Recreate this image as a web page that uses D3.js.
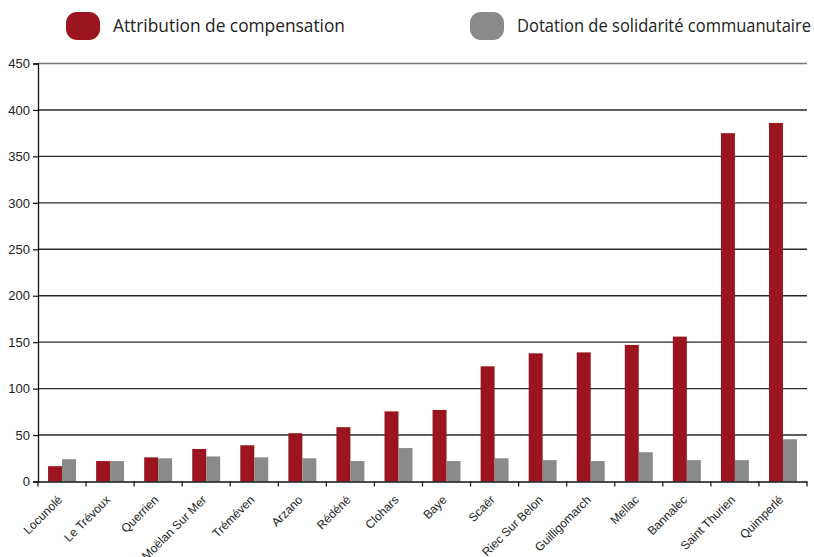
<!DOCTYPE html>
<html>
<head>
<meta charset="utf-8">
<script src="https://cdn.jsdelivr.net/npm/d3@7"></script>
<style>
  body { margin: 0; background: #fff; }
  svg { display: block; }
</style>
</head>
<body>
<div id="chart"></div>
<script>
// communes, dans l'ordre du graphique
var communes = ["Locunolé", "Le Trévoux", "Querrien", "Moëlan Sur Mer", "Tréméven", "Arzano",
  "Rédéné", "Clohars", "Baye", "Scaër", "Riec Sur Belon", "Guilligomarch", "Mellac",
  "Bannalec", "Saint Thurien", "Quimperlé"];
var attribution = [16.5, 22, 26, 35, 39, 52, 58.5, 75.5, 77, 124, 138, 139, 147, 156, 375, 386];
var dotation = [24, 22, 25, 27, 26, 25, 22, 36, 22, 25, 23, 22, 31.5, 23, 23, 45.5];
var yTicks = [0, 50, 100, 150, 200, 250, 300, 350, 400, 450];
var series = ["Attribution de compensation", "Dotation de solidarité commuanutaire"];
var couleurs = ["#9a151d", "#8a8a8a"];

var width = 814, height = 557;
var margin = { top: 63.5, right: 7, bottom: 75.5, left: 38 };

var svg = d3.select("#chart").append("svg")
  .attr("width", width)
  .attr("height", height);

var x = d3.scaleBand()
  .domain(communes)
  .range([margin.left, width - margin.right])
  .padding(0);

var x1 = d3.scaleBand()
  .domain([0, 1])
  .range([0, x.bandwidth()])
  .paddingInner(0)
  .paddingOuter(0.72);

var y = d3.scaleLinear()
  .domain([0, 450])
  .range([height - margin.bottom, margin.top]);

// grille
svg.append("g")
  .selectAll("line")
  .data(yTicks.slice(1))
  .join("line")
    .attr("x1", margin.left)
    .attr("x2", width - margin.right)
    .attr("y1", d => y(d))
    .attr("y2", d => y(d))
    .attr("stroke", d => d == 450 ? "#777" : "#2a2a2a")
    .attr("stroke-width", 1.4);

// barres
var data = communes.map((c, i) => ({ name: c, vals: [attribution[i], dotation[i]] }));

var groupes = svg.append("g")
  .selectAll("g")
  .data(data)
  .join("g")
    .attr("transform", d => `translate(${x(d.name)},0)`);

groupes.selectAll("rect")
  .data(d => d.vals.map((v, k) => ({ k: k, v: v })))
  .join("rect")
    .attr("x", d => x1(d.k))
    .attr("y", d => y(d.v))
    .attr("width", x1.bandwidth())
    .attr("height", d => y(0) - y(d.v))
    .attr("fill", d => couleurs[d.k]);

// axe Y
function yAxis(g) {
  g.attr("transform", `translate(${margin.left},0)`)
    .call(d3.axisLeft(y).tickValues(yTicks).tickSize(5).tickPadding(3))
    .attr("font-size", "13px")
    .attr("font-family", "'Liberation Sans', Arial, sans-serif");
  g.select(".domain").attr("stroke", "#111").attr("stroke-width", 1.3);
  g.selectAll(".tick line").attr("stroke", "#111").attr("stroke-width", 1.2);
  g.selectAll(".tick text").attr("fill", "#222");
}

// axe X : repères entre les communes, étiquettes au centre
function xAxis(g) {
  g.attr("transform", `translate(0,${y(0)})`)
    .call(d3.axisBottom(x).tickSize(0).tickSizeOuter(0).tickPadding(0))
    .attr("font-size", "12px")
    .attr("font-family", "'Liberation Sans', Arial, sans-serif");
  g.select(".domain").attr("stroke", "#111").attr("stroke-width", 1.5);
  g.selectAll(".tick text")
    .attr("fill", "#222")
    .attr("text-anchor", "end")
    .attr("dy", "0.35em")
    .attr("transform", "translate(-2,16) rotate(-45)");
  var bords = communes.map(c => x(c)).concat([x.range()[1]]);
  g.selectAll(".bord")
    .data(bords)
    .join("line")
      .attr("class", "bord")
      .attr("x1", d => d)
      .attr("x2", d => d)
      .attr("y1", 0)
      .attr("y2", 5)
      .attr("stroke", "#111")
      .attr("stroke-width", 1.2);
}

svg.append("g").call(xAxis);
svg.append("g").call(yAxis);

// légende
var legX = [66, 470];
var legLong = [232, 294];
var legende = svg.append("g")
  .selectAll("g")
  .data(series)
  .join("g")
    .attr("transform", (d, i) => `translate(${legX[i]},12)`);

legende.append("rect")
  .attr("width", 34)
  .attr("height", 28)
  .attr("rx", 11)
  .attr("ry", 11)
  .attr("fill", (d, i) => couleurs[i]);

legende.append("text")
  .attr("x", 47)
  .attr("y", 20)
  .attr("font-family", "'Open Sans', sans-serif")
  .attr("font-size", "18px")
  .attr("textLength", (d, i) => legLong[i])
  .attr("lengthAdjust", "spacingAndGlyphs")
  .attr("fill", "#222")
  .text(d => d);
</script>
</body>
</html>
